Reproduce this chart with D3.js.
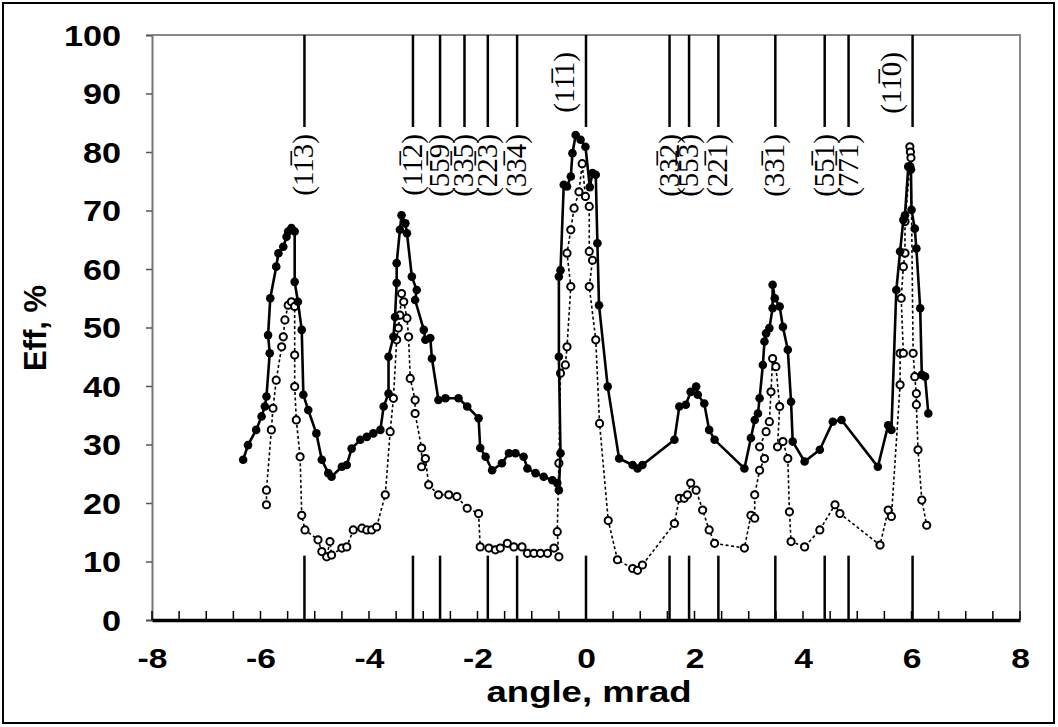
<!DOCTYPE html>
<html><head><meta charset="utf-8">
<script src="https://cdn.jsdelivr.net/npm/d3@7"></script>
<style>body{margin:0;background:#fff}svg{display:block}</style>
</head><body>
<svg id="c" width="1058" height="727"></svg>
<script>
// ---- data ----
const xTicks = [-8,-6,-4,-2,0,2,4,6,8];
const xTickLabels = ["-8","-6","-4","-2","0","2","4","6","8"];
const yTicks = [0,10,20,30,40,50,60,70,80,90,100];
const planeAngles = [-5.19,-3.19,-2.69,-2.24,-1.81,-1.27,0,1.54,1.90,2.44,3.49,4.40,4.84,6.02];
const planeLabels = ["(11\u03053)","(11\u03052)","(55\u03059)","(33\u03055)","(22\u03053)","(33\u03054)","(11\u03051)","(33\u03052)","(55\u03053)","(22\u03051)","(33\u03051)","(55\u03051)","(77\u03051)","(11\u03050)"];
const planeBottom = [true,true,true,false,true,true,true,true,true,true,true,true,true,true];
const planeSide = [false,false,false,false,false,false,true,false,false,false,false,false,false,true];

const solidX = [-6.32,-6.23,-6.08,-5.98,-5.92,-5.89,-5.83,-5.86,-5.82,-5.71,-5.67,-5.58,-5.52,-5.49,-5.43,-5.37,-5.37,-5.31,-5.24,-5.21,-5.12,-4.97,-4.87,-4.75,-4.69,-4.50,-4.41,-4.32,-4.16,-4.04,-3.92,-3.79,-3.73,-3.64,-3.64,-3.55,-3.52,-3.49,-3.49,-3.43,-3.40,-3.33,-3.30,-3.21,-3.12,-3.15,-2.99,-2.96,-2.87,-2.84,-2.72,-2.59,-2.35,-2.19,-1.98,-1.95,-1.85,-1.73,-1.55,-1.42,-1.30,-1.15,-1.08,-0.93,-0.78,-0.62,-0.53,-0.50,-0.47,-0.50,-0.50,-0.47,-0.41,-0.35,-0.28,-0.25,-0.19,-0.10,-0.01,0.07,0.12,0.18,0.21,0.24,0.40,0.61,0.86,0.95,1.04,1.63,1.72,1.84,1.93,2.03,2.06,2.18,2.27,2.37,2.92,3.04,3.11,3.17,3.20,3.26,3.29,3.32,3.38,3.44,3.44,3.48,3.57,3.63,3.72,3.78,3.81,4.03,4.31,4.55,4.71,5.38,5.57,5.63,5.72,5.79,5.85,5.88,5.94,5.99,6.00,6.06,6.09,6.16,6.19,6.25,6.31];
const solidY = [27.4,29.9,32.5,34.8,36.5,38.2,45.6,48.7,55.0,60.4,62.7,63.8,65.5,66.4,67.0,66.4,57.8,54.4,49.6,38.5,35.9,31.9,27.4,25.1,24.5,26.2,26.5,29.3,30.8,31.3,31.9,32.5,36.5,38.7,45.0,48.4,51.8,57.6,61.0,66.7,69.2,67.8,66.1,58.7,56.4,54.7,49.6,47.9,48.2,44.7,37.6,37.9,37.9,36.5,34.5,29.4,27.9,25.6,26.8,28.5,28.5,27.9,25.9,25.1,24.5,23.9,23.4,22.2,28.5,45.0,58.7,59.8,74.4,74.1,75.8,79.8,82.9,82.1,80.9,74.0,76.4,76.1,64.4,53.8,39.9,27.6,26.5,25.9,26.5,30.8,36.5,36.8,39.0,39.9,38.5,37.0,32.5,30.8,25.9,31.1,34.2,35.3,37.9,43.6,47.6,49.0,49.9,53.3,57.3,55.0,53.6,50.1,46.2,37.3,30.5,27.1,29.1,33.9,34.2,26.2,33.3,32.5,56.4,63.0,68.4,69.2,77.5,77.0,70.1,66.9,63.5,53.3,41.9,41.6,35.3];

const openX = [-5.89,-5.89,-5.80,-5.77,-5.71,-5.61,-5.58,-5.55,-5.49,-5.43,-5.37,-5.37,-5.37,-5.34,-5.27,-5.24,-5.18,-4.94,-4.87,-4.78,-4.72,-4.69,-4.50,-4.41,-4.29,-4.13,-4.04,-3.95,-3.86,-3.70,-3.61,-3.55,-3.49,-3.46,-3.43,-3.40,-3.36,-3.30,-3.27,-3.24,-3.15,-3.15,-3.03,-3.03,-2.96,-2.90,-2.72,-2.53,-2.38,-2.19,-1.98,-1.95,-1.79,-1.67,-1.58,-1.45,-1.33,-1.18,-1.08,-0.96,-0.84,-0.71,-0.59,-0.50,-0.53,-0.50,-0.47,-0.38,-0.35,-0.28,-0.35,-0.28,-0.22,-0.13,-0.07,-0.01,0.06,0.06,0.12,0.06,0.18,0.25,0.41,0.58,0.86,0.95,1.04,1.63,1.72,1.81,1.87,1.93,2.03,2.15,2.27,2.37,2.92,3.04,3.11,3.11,3.20,3.29,3.20,3.32,3.38,3.41,3.44,3.50,3.57,3.53,3.63,3.72,3.75,3.78,4.03,4.31,4.59,4.68,5.42,5.57,5.63,5.79,5.79,5.85,5.81,5.85,5.88,5.88,5.97,5.97,5.98,5.99,6.03,6.06,6.09,6.09,6.12,6.19,6.28];
const openY = [19.7,22.2,32.5,36.2,41.0,46.7,48.4,51.3,53.8,54.4,53.6,45.3,39.9,34.2,27.9,17.9,15.4,13.7,11.7,10.8,13.4,11.1,12.3,12.5,15.4,15.7,15.4,15.4,15.9,21.4,32.2,37.9,47.9,49.9,52.1,55.8,54.4,51.6,48.4,41.3,37.6,35.3,29.4,26.2,27.6,23.1,21.4,21.4,21.1,19.1,18.2,12.5,12.3,12.0,12.3,13.1,12.5,12.5,11.4,11.4,11.4,11.4,12.3,10.8,15.1,26.8,42.2,43.6,46.7,57.0,62.7,66.7,70.4,73.2,78.0,72.4,70.7,63.0,61.5,57.0,47.9,33.6,17.0,10.3,8.8,8.5,9.4,16.5,20.8,20.8,21.4,23.4,22.2,18.8,15.4,13.1,12.3,17.9,17.4,21.4,25.6,27.6,29.6,32.2,33.9,39.0,44.7,43.3,36.5,29.6,30.5,27.6,18.5,13.4,12.5,15.4,19.7,18.2,12.8,18.8,17.7,40.2,45.6,45.6,55.0,60.4,62.7,68.1,77.5,80.9,80.0,79.0,45.6,41.6,38.7,36.8,29.1,20.5,16.2];

// ---- drawing ----
const svg = d3.select("#c");
const L = 152, R = 1020, T = 35, B = 620;
const x = d3.scaleLinear().domain([-8, 8]).range([L, R]);
const y = d3.scaleLinear().domain([0, 100]).range([B, T]);
const SANS = "Liberation Sans, Arial, sans-serif";

// outer frame
svg.append("rect").attr("x", 3).attr("y", 3).attr("width", 1051).attr("height", 720)
  .attr("fill", "none").attr("stroke", "#000").attr("stroke-width", 2);

// plot frame (top/right gray)
svg.append("path").attr("d", `M${L},${T}H${R}V${B}`).attr("fill", "none")
  .attr("stroke", "#888").attr("stroke-width", 2);

// y axis
const yAxis = svg.append("g").attr("transform", `translate(${L},0)`)
  .call(d3.axisLeft(y).tickValues(yTicks).tickSize(6).tickFormat(d => String(d)));
yAxis.select(".domain").attr("stroke", "#777").attr("stroke-width", 2);
yAxis.selectAll(".tick line").attr("stroke", "#555").attr("stroke-width", 1.5);
yAxis.selectAll(".tick text").attr("font-family", SANS)
  .attr("font-weight", "bold").attr("font-size", 29).attr("fill", "#000")
  .attr("x", 0).attr("dy", "0.36em")
  .attr("transform", "translate(-31,0) scale(1.18,1)")
  .attr("text-anchor", "end");

// x axis minor ticks every 0.5 (inside)
const minor = d3.range(-8, 8.01, 0.5);
svg.append("g").selectAll("line").data(minor).join("line")
  .attr("x1", d => x(d)).attr("x2", d => x(d)).attr("y1", B).attr("y2", B - 9)
  .attr("stroke", "#000").attr("stroke-width", 1.5);
const xAxis = svg.append("g").attr("transform", `translate(0,${B})`)
  .call(d3.axisBottom(x).tickValues(xTicks).tickSize(0).tickPadding(0)
    .tickFormat((d, i) => xTickLabels[i]));
xAxis.select(".domain").attr("stroke", "#000").attr("stroke-width", 3.5);
xAxis.selectAll(".tick text").attr("font-family", SANS)
  .attr("font-weight", "bold").attr("font-size", 28).attr("fill", "#000")
  .attr("y", 0).attr("dy", 0)
  .attr("transform", "translate(0,48) scale(1.2,1)");

// axis titles
svg.append("text").attr("x", 0).attr("y", 0).attr("text-anchor", "middle")
  .attr("font-family", SANS).attr("font-weight", "bold")
  .attr("font-size", 29).text("angle, mrad")
  .attr("transform", "translate(589,702) scale(1.26,1)");
svg.append("text").attr("transform", "translate(46,328) rotate(-90)").attr("text-anchor", "middle")
  .attr("font-family", SANS).attr("font-weight", "bold")
  .attr("font-size", 31).text("Eff, %");

// plane lines
const planes = planeAngles.map((a, i) => ({a, lab: planeLabels[i], bot: planeBottom[i], side: planeSide[i]}));
const pg = svg.append("g");
pg.selectAll("line.top").data(planes).join("line").attr("class", "top")
  .attr("x1", d => x(d.a)).attr("x2", d => x(d.a)).attr("y1", T).attr("y2", 127)
  .attr("stroke", "#000").attr("stroke-width", 2.5);
pg.selectAll("line.bot").data(planes.filter(d => d.bot)).join("line").attr("class", "bot")
  .attr("x1", d => x(d.a)).attr("x2", d => x(d.a)).attr("y1", y(11)).attr("y2", B)
  .attr("stroke", "#000").attr("stroke-width", 2.5);
pg.selectAll("text").data(planes).join("text")
  .attr("transform", d => d.side ? `translate(${x(d.a) - 12},${52}) rotate(-90)` : `translate(${x(d.a) + 9},${134}) rotate(-90)`)
  .attr("text-anchor", "end")
  .attr("font-family", "Liberation Serif, Times New Roman, serif").attr("font-size", 29)
  .attr("fill", "#000")
  .text(d => d.lab);

// series
const openPts = openX.map((v, i) => [v, openY[i]]);
const solidPts = solidX.map((v, i) => [v, solidY[i]]);
const line = d3.line().x(d => x(d[0])).y(d => y(d[1]));
svg.append("path").attr("d", line(openPts)).attr("fill", "none").attr("stroke", "#000")
  .attr("stroke-width", 1.6).attr("stroke-dasharray", "3,2.5");
svg.append("g").selectAll("circle").data(openPts).join("circle")
  .attr("cx", d => x(d[0])).attr("cy", d => y(d[1])).attr("r", 3.6)
  .attr("fill", "#fff").attr("stroke", "#000").attr("stroke-width", 2);
svg.append("path").attr("d", line(solidPts)).attr("fill", "none").attr("stroke", "#000")
  .attr("stroke-width", 2.6);
svg.append("g").selectAll("circle").data(solidPts).join("circle")
  .attr("cx", d => x(d[0])).attr("cy", d => y(d[1])).attr("r", 4.3).attr("fill", "#000");
</script>
</body></html>
